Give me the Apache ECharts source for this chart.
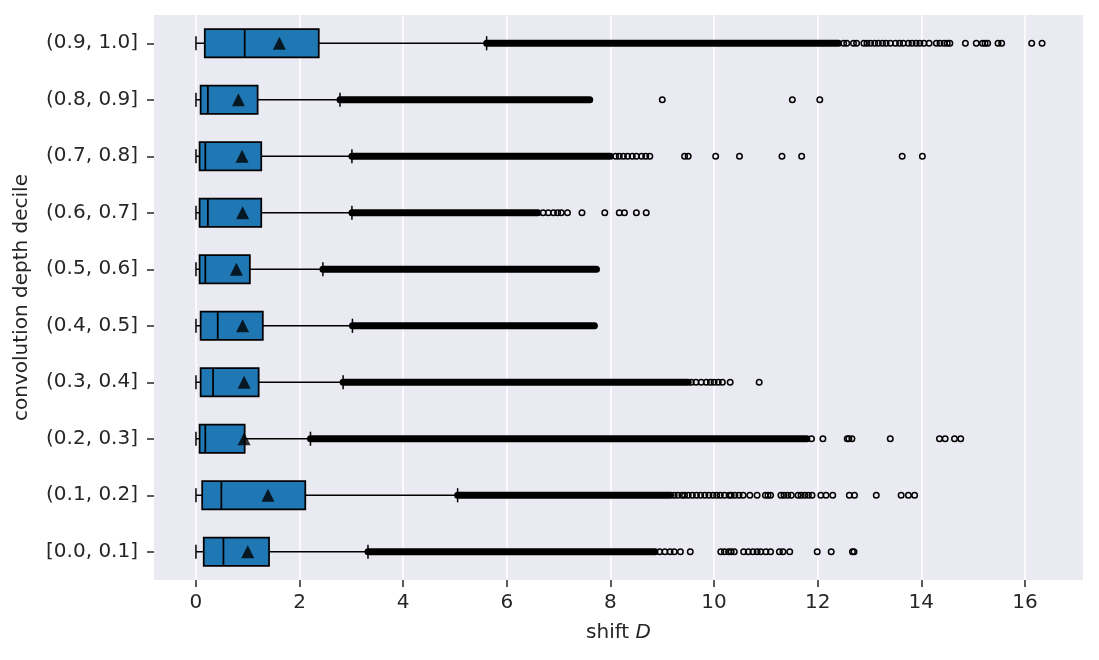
<!DOCTYPE html>
<html>
<head>
    <meta charset="utf-8">
    <title>shift D by convolution depth decile</title>
    <script src="https://cdn.jsdelivr.net/npm/echarts@6/dist/echarts.min.js"></script>
    <style>
      body, canvas {
        padding: 0;
        margin: 0;
      }
      #main {
        width: 1099px;
        height: 660px;
      }
    </style>
</head>
<body>
    <div id="main"></div>
    <script type="text/javascript">
      // categories, bottom to top
      const deciles = ['[0.0, 0.1]', '(0.1, 0.2]', '(0.2, 0.3]', '(0.3, 0.4]', '(0.4, 0.5]',
        '(0.5, 0.6]', '(0.6, 0.7]', '(0.7, 0.8]', '(0.8, 0.9]', '(0.9, 1.0]'];
      const whiskerLow = [0, 0, 0, 0, 0, 0, 0, 0, 0, 0];
      const q1 = [0.15, 0.12, 0.07, 0.09, 0.09, 0.07, 0.07, 0.07, 0.09, 0.17];
      const medians = [0.53, 0.49, 0.18, 0.33, 0.42, 0.18, 0.23, 0.18, 0.23, 0.94];
      const q3 = [1.41, 2.11, 0.94, 1.21, 1.29, 1.04, 1.26, 1.26, 1.19, 2.37];
      const whiskerHigh = [3.32, 5.05, 2.21, 2.84, 3.02, 2.45, 3.01, 3.01, 2.78, 5.61];
      const means = [1.0, 1.39, 0.93, 0.93, 0.9, 0.78, 0.9, 0.89, 0.82, 1.61];
      // fliers so dense they merge into a solid run, from the whisker up to here
      const denseEnd = [8.86, 9.16, 11.79, 9.5, 7.69, 7.73, 6.6, 8.0, 7.6, 12.4];
      // the separate fliers beyond the dense run
      const fliers = [
        [8.95, 9.05, 9.15, 9.23, 9.35, 9.54, 10.13, 10.2, 10.28, 10.33, 10.39, 10.57, 10.66,
          10.75, 10.83, 10.9, 11.0, 11.09, 11.26, 11.33, 11.46, 11.99, 12.26, 12.67, 12.7],
        [9.23, 9.3, 9.38, 9.43, 9.5, 9.58, 9.66, 9.74, 9.82, 9.9, 9.98, 10.05, 10.12, 10.2,
          10.29, 10.33, 10.4, 10.48, 10.56, 10.69, 10.83, 10.99, 11.04, 11.09, 11.29, 11.35,
          11.42, 11.49, 11.62, 11.68, 11.75, 11.82, 11.89, 12.06, 12.16, 12.29, 12.61, 12.71,
          13.13, 13.61, 13.75, 13.87],
        [11.88, 12.1, 12.57, 12.6, 12.66, 13.4, 14.35, 14.46, 14.64, 14.76],
        [9.56, 9.65, 9.75, 9.85, 9.93, 10.0, 10.08, 10.16, 10.31, 10.87],
        [],
        [],
        [6.7, 6.8, 6.9, 6.98, 7.05, 7.17, 7.45, 7.89, 8.17, 8.27, 8.5, 8.69],
        [8.1, 8.17, 8.25, 8.33, 8.42, 8.5, 8.6, 8.68, 8.76, 9.43, 9.5, 10.03, 10.49, 11.31,
          11.69, 13.63, 14.02],
        [9.0, 11.51, 12.04],
        [12.5, 12.56, 12.69, 12.75, 12.89, 12.95, 13.02, 13.1, 13.17, 13.25, 13.32, 13.4, 13.5,
          13.58, 13.65, 13.75, 13.82, 13.9, 13.97, 14.05, 14.15, 14.29, 14.36, 14.44, 14.5,
          14.55, 14.85, 15.06, 15.18, 15.23, 15.28, 15.48, 15.55, 16.13, 16.33]
      ];
      const xTicks = [0, 2, 4, 6, 8, 10, 12, 14, 16];

      const ink = '#262626';
      const font = 'DejaVu Sans';

      const boxData = deciles.map((d, i) => [i, whiskerLow[i], q1[i], medians[i], q3[i], whiskerHigh[i]]);
      const denseData = deciles.map((d, i) => [i, whiskerHigh[i], denseEnd[i]]);
      const meanData = deciles.map((d, i) => [means[i], i]);
      const flierData = [];
      fliers.forEach((row, i) => row.forEach(v => flierData.push([v, i])));

      function renderBox(params, api) {
        const cat = api.value(0);
        const y = api.coord([0, cat])[1];
        const band = api.size([0, 1])[1];
        const hb = band * 0.25;
        const hc = band * 0.125;
        const x = [1, 2, 3, 4, 5].map(k => api.coord([api.value(k), cat])[0]);
        const stroke = { stroke: '#000', lineWidth: 1.5 };
        return {
          type: 'group',
          children: [
            { type: 'line', shape: { x1: x[0], y1: y, x2: x[1], y2: y }, style: stroke },
            { type: 'line', shape: { x1: x[3], y1: y, x2: x[4], y2: y }, style: stroke },
            { type: 'line', shape: { x1: x[0], y1: y - hc, x2: x[0], y2: y + hc }, style: stroke },
            { type: 'line', shape: { x1: x[4], y1: y - hc, x2: x[4], y2: y + hc }, style: stroke },
            { type: 'rect', shape: { x: x[1], y: y - hb, width: x[3] - x[1], height: 2 * hb },
              style: { fill: '#1f77b4', stroke: '#000', lineWidth: 1.75 } },
            { type: 'line', shape: { x1: x[2], y1: y - hb, x2: x[2], y2: y + hb }, style: { stroke: '#000', lineWidth: 1.75 } }
          ]
        };
      }

      function renderDense(params, api) {
        const cat = api.value(0);
        const a = api.coord([api.value(1), cat]);
        const b = api.coord([api.value(2), cat]);
        return {
          type: 'line',
          shape: { x1: a[0], y1: a[1], x2: b[0], y2: b[1] },
          style: { stroke: '#000', lineWidth: 7, lineCap: 'round' }
        };
      }

      const myChart = echarts.init(document.getElementById('main'));
      const option = {
        animation: false,
        textStyle: { fontFamily: font, color: ink },
        grid: {
          left: 154, right: 16, top: 15, bottom: 80,
          show: true, backgroundColor: '#EAEAF2', borderWidth: 0
        },
        xAxis: {
          type: 'value',
          min: -0.81,
          max: 17.12,
          name: 'shift {i|D}',
          nameLocation: 'middle',
          nameGap: 43,
          nameTextStyle: {
            fontFamily: font, fontSize: 20, color: ink,
            rich: { i: { fontFamily: font, fontSize: 20, color: ink, fontStyle: 'italic' } }
          },
          axisLine: { show: false, onZero: false },
          axisTick: { show: true, length: 7, customValues: xTicks, lineStyle: { color: ink, width: 1.5 } },
          axisLabel: { customValues: xTicks, margin: 13, fontSize: 20, color: ink, fontFamily: font },
          splitLine: { show: true, lineStyle: { color: '#ffffff', width: 1.5 } }
        },
        yAxis: {
          type: 'category',
          data: deciles,
          boundaryGap: true,
          name: 'convolution depth decile',
          nameLocation: 'middle',
          nameGap: 122,
          nameTextStyle: { fontFamily: font, fontSize: 20, color: ink },
          axisLine: { show: false, onZero: false },
          axisTick: { show: true, alignWithLabel: true, length: 7, lineStyle: { color: ink, width: 1.5 } },
          axisLabel: { margin: 16, fontSize: 20, color: ink, fontFamily: font },
          splitLine: { show: false }
        },
        series: [
          {
            type: 'custom',
            name: 'dense fliers',
            renderItem: renderDense,
            encode: { x: [1, 2], y: 0 },
            data: denseData,
            z: 2
          },
          {
            type: 'scatter',
            name: 'fliers',
            data: flierData,
            symbol: 'circle',
            symbolSize: 5.5,
            itemStyle: { color: 'rgba(0,0,0,0)', borderColor: '#000', borderWidth: 1.5, opacity: 1 },
            z: 3
          },
          {
            type: 'custom',
            name: 'boxes',
            renderItem: renderBox,
            encode: { x: [1, 2, 3, 4, 5], y: 0 },
            data: boxData,
            z: 4
          },
          {
            type: 'scatter',
            name: 'mean',
            data: meanData,
            symbol: 'triangle',
            symbolSize: 13,
            itemStyle: { color: '#000' },
            z: 5
          }
        ]
      };
      myChart.setOption(option);
    </script>
</body>
</html>
